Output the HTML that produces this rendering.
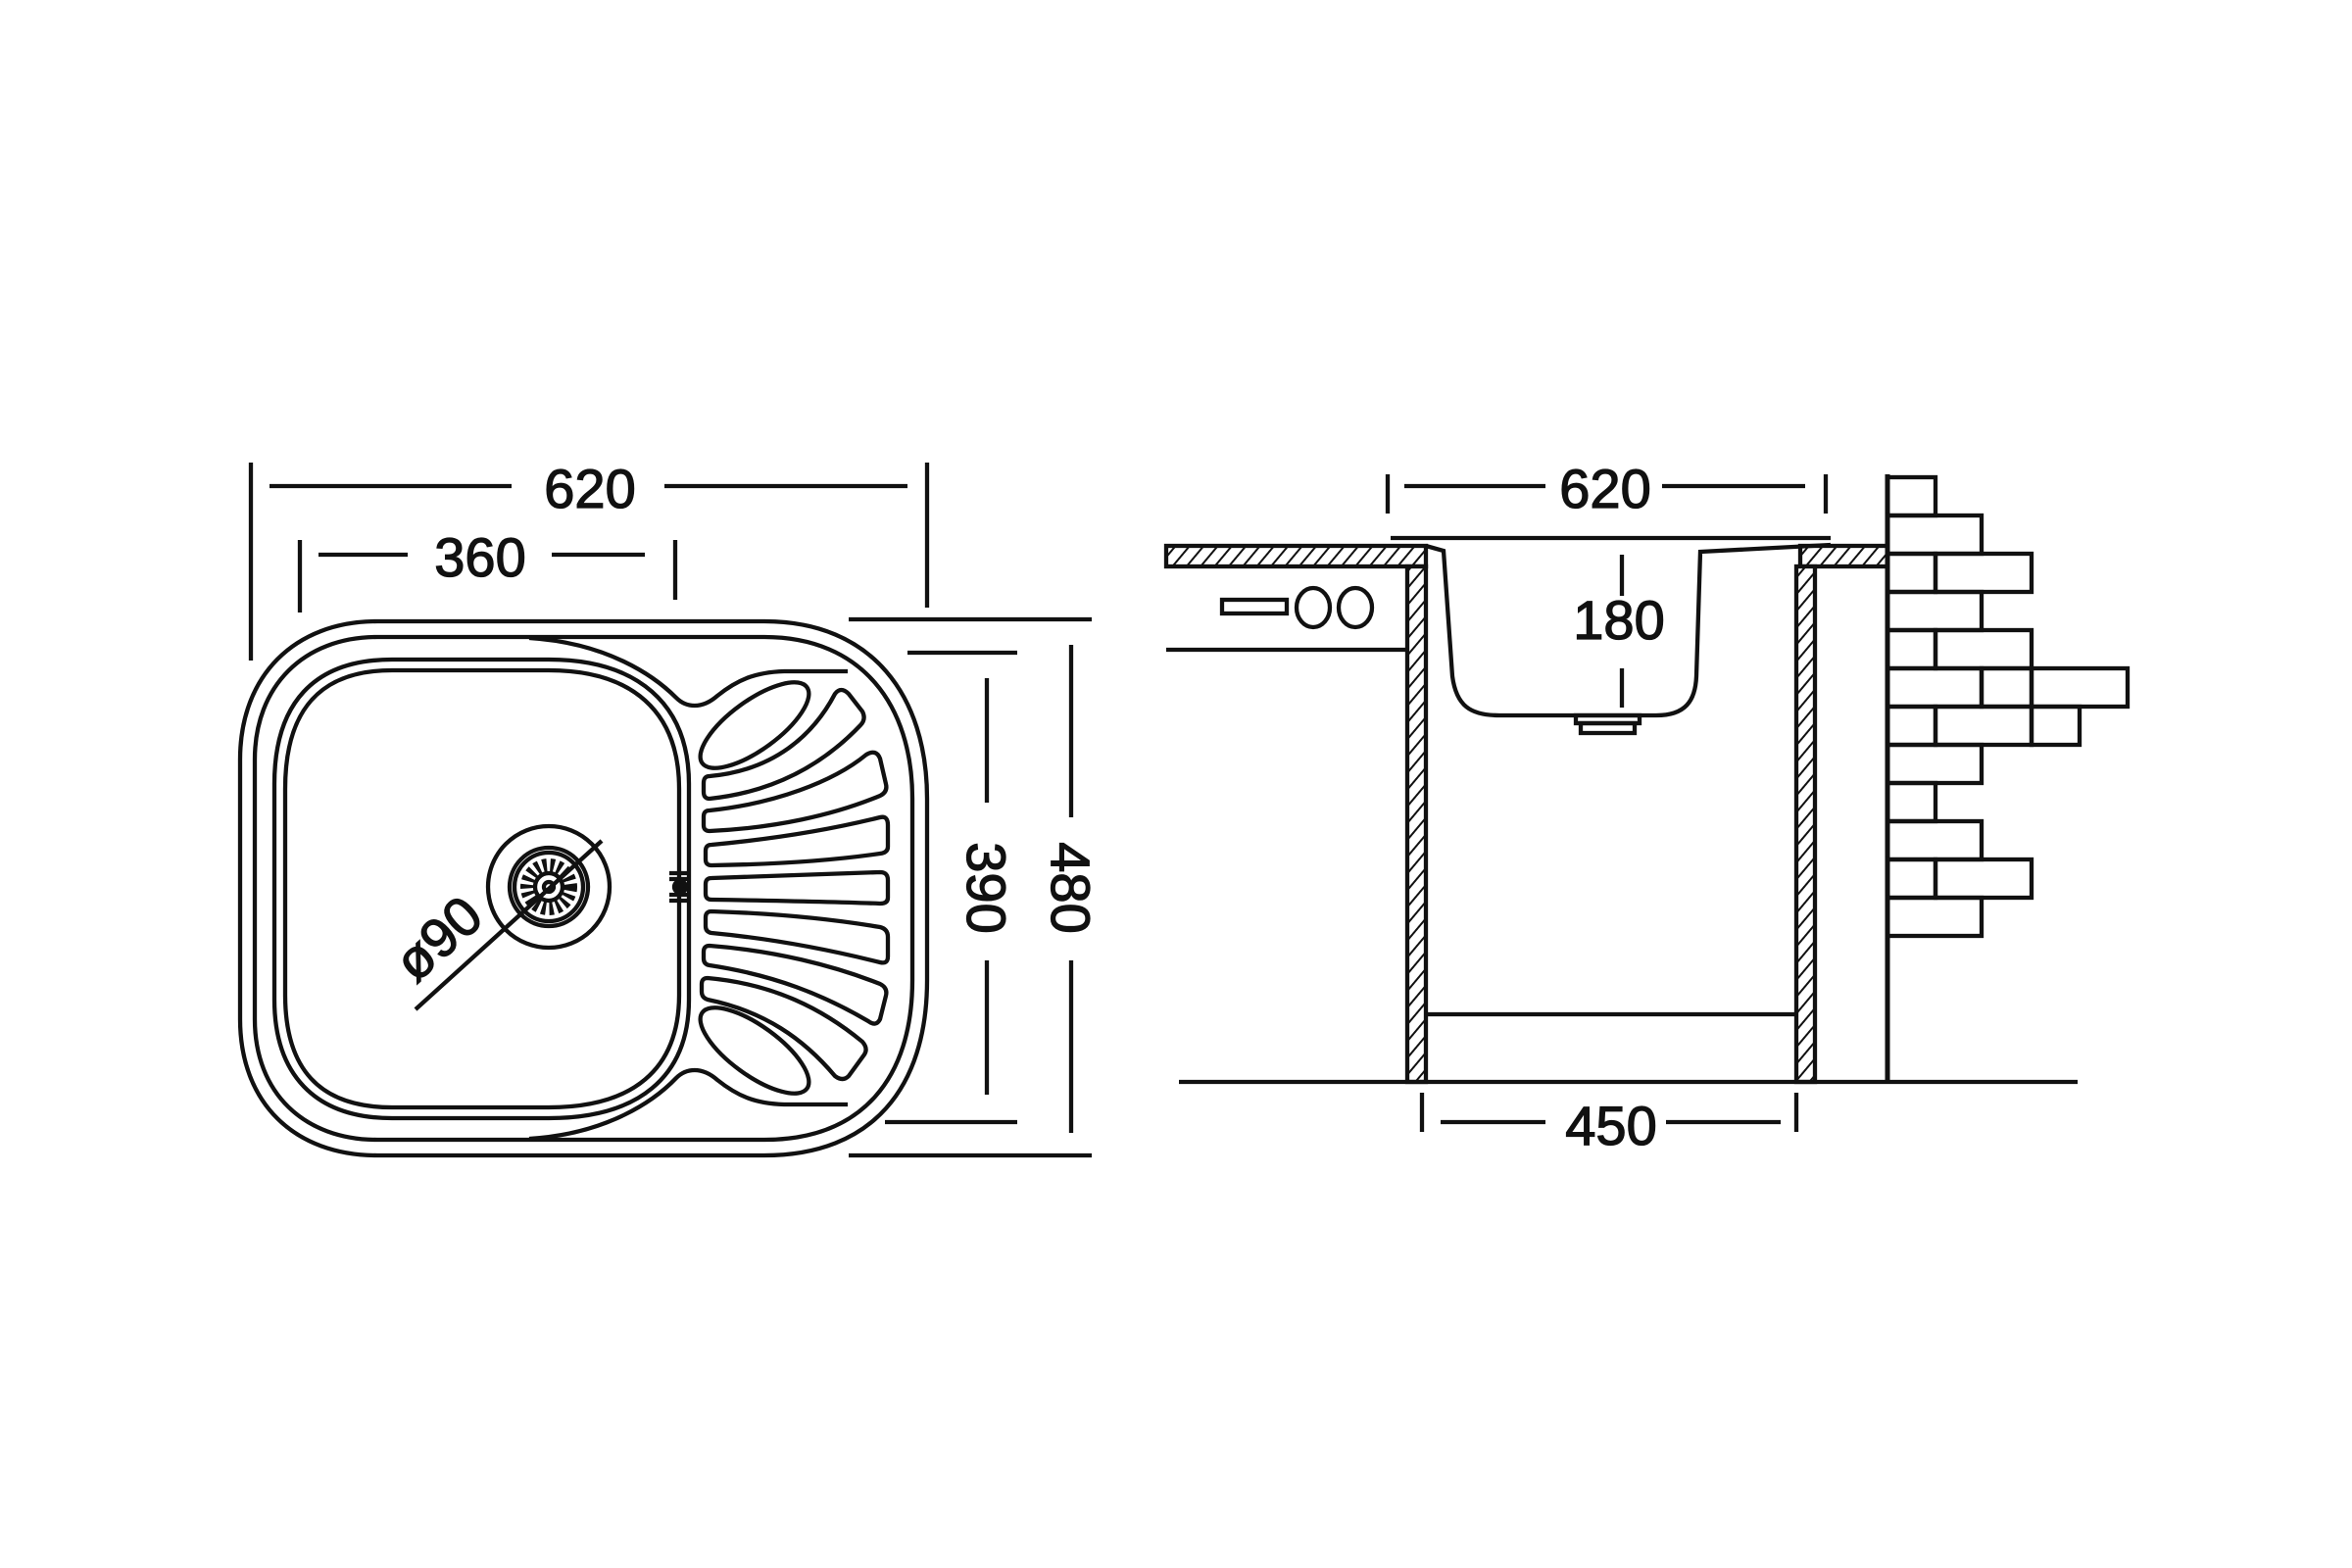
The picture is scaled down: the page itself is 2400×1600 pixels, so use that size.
<!DOCTYPE html>
<html><head><meta charset="utf-8"><style>html,body{margin:0;padding:0;background:#fff}svg{display:block}</style></head>
<body>
<svg width="2400" height="1600" viewBox="0 0 2400 1600" xmlns="http://www.w3.org/2000/svg">
<defs>
<pattern id="h" width="11" height="11" patternUnits="userSpaceOnUse" patternTransform="rotate(40)">
<rect width="11" height="11" fill="#fff"/><line x1="0" y1="0" x2="0" y2="11" stroke="#111" stroke-width="4"/></pattern>
</defs>
<g fill="none" stroke="#111" stroke-width="4.3" stroke-linecap="butt">
<!-- LEFT VIEW -->
<path d="M385,634 H780 C890,634 946,710 946,815 V1000 C946,1110 890,1179 780,1179 H385 C300,1179 245,1125 245,1040 V775 C245,690 300,634 385,634 Z"/>
<path d="M385,650 H780 C880,650 931,720 931,815 V1000 C931,1100 880,1163 780,1163 H385 C310,1163 260,1115 260,1040 V775 C260,700 310,650 385,650 Z"/>
<path d="M540,651 C620,656 668,690 690,712 C700,722 716,724 732,710 C752,694 770,686 800,685 H865"/>
<path d="M540,1162 C620,1157 668,1123 690,1100 C700,1090 716,1088 732,1102 C752,1118 770,1126 800,1127 H865"/>
<path d="M400,673 H560 C650,673 703,718 703,800 V1020 C703,1100 650,1141 560,1141 H400 C320,1141 280,1095 280,1020 V800 C280,718 320,673 400,673 Z"/>
<path d="M400,684 H560 C645,684 693,726 693,805 V1015 C693,1092 645,1130 560,1130 H400 C325,1130 291,1090 291,1015 V805 C291,726 325,684 400,684 Z"/>
<!-- overflow -->
<line x1="683" y1="891" x2="705" y2="891"/><line x1="683" y1="897" x2="705" y2="897"/>
<line x1="683" y1="913" x2="705" y2="913"/><line x1="683" y1="919" x2="705" y2="919"/>
<circle cx="694" cy="905" r="6" fill="#111"/>
<!-- drain -->
<circle cx="560" cy="905" r="62"/><circle cx="560" cy="905" r="40"/><circle cx="560" cy="905" r="35"/>
<circle cx="560" cy="905" r="22" stroke-width="14" stroke-dasharray="4 3.5"/>
<circle cx="560" cy="905" r="14"/><circle cx="560" cy="905" r="5"/>
<line x1="424" y1="1030" x2="614" y2="858"/>
<!-- ribs -->
<ellipse cx="770" cy="740" rx="66" ry="25" transform="rotate(-36 770 740)"/>
<ellipse cx="770" cy="1072" rx="66" ry="25" transform="rotate(36 770 1072)"/>
<path d="M724,792 C790,786 830,750 852,708 Q858,700 866,708 L880,726 Q884,734 878,740 C840,780 790,808 724,815 Q718,815 718,808 V799 Q718,792 724,792 Z"/>
<path d="M724,827 C790,820 850,798 884,770 Q894,764 898,774 L904,800 Q906,808 898,812 C850,832 790,845 724,848 Q718,848 718,842 V833 Q718,827 724,827 Z"/>
<path d="M726,862 C790,856 850,846 898,834 Q906,832 906,842 V864 Q906,870 898,871 C850,878 790,882 726,883 Q720,883 720,877 V868 Q720,862 726,862 Z"/>
<path d="M726,896 C790,894 850,892 898,890 Q906,890 906,898 V916 Q906,922 898,922 C850,920 790,919 726,918 Q720,918 720,912 V902 Q720,896 726,896 Z"/>
<path d="M726,930 C790,932 850,938 898,946 Q906,948 906,956 V976 Q906,984 898,982 C850,970 790,958 726,952 Q720,951 720,945 V936 Q720,930 726,930 Z"/>
<path d="M724,965 C790,970 850,985 898,1004 Q906,1008 904,1016 L898,1040 Q894,1048 886,1042 C840,1015 790,995 724,985 Q718,984 718,978 V971 Q718,965 724,965 Z"/>
<path d="M722,998 C790,1004 840,1030 880,1063 Q886,1070 882,1076 L866,1098 Q860,1104 852,1098 C820,1060 780,1032 722,1020 Q716,1018 716,1012 V1004 Q716,998 722,998 Z"/>
<!-- dims left -->
<line x1="256" y1="472" x2="256" y2="674"/><line x1="946" y1="472" x2="946" y2="620"/>
<line x1="275" y1="496" x2="522" y2="496"/><line x1="678" y1="496" x2="926" y2="496"/>
<line x1="306" y1="551" x2="306" y2="625"/><line x1="689" y1="551" x2="689" y2="612"/>
<line x1="325" y1="566" x2="416" y2="566"/><line x1="563" y1="566" x2="658" y2="566"/>
<line x1="926" y1="666" x2="1038" y2="666"/><line x1="903" y1="1145" x2="1038" y2="1145"/>
<line x1="1007" y1="692" x2="1007" y2="819"/><line x1="1007" y1="980" x2="1007" y2="1117"/>
<line x1="866" y1="632" x2="1114" y2="632"/><line x1="866" y1="1179" x2="1114" y2="1179"/>
<line x1="1093" y1="658" x2="1093" y2="834"/><line x1="1093" y1="980" x2="1093" y2="1156"/>
<!-- RIGHT VIEW -->
<rect x="1190" y="557" width="265" height="21" fill="url(#h)"/>
<rect x="1837" y="557" width="89" height="21" fill="url(#h)"/>
<rect x="1436" y="578" width="19" height="526" fill="url(#h)"/>
<rect x="1833" y="578" width="19" height="526" fill="url(#h)"/>
<line x1="1419" y1="549" x2="1868" y2="549"/>
<path d="M1455,557 L1473,562 L1482,690 C1486,720 1500,730 1530,730 H1690 C1720,730 1730,715 1731,690 L1735,563 L1868,556"/>
<rect x="1608" y="730" width="65" height="8"/><rect x="1613" y="738" width="55" height="10"/>
<line x1="1655" y1="566" x2="1655" y2="608"/><line x1="1655" y1="682" x2="1655" y2="722"/>
<line x1="1190" y1="663" x2="1436" y2="663"/>
<rect x="1247" y="612" width="66" height="14"/>
<ellipse cx="1340" cy="620" rx="17" ry="20"/><ellipse cx="1383" cy="620" rx="17" ry="20"/>
<line x1="1455" y1="1035" x2="1833" y2="1035"/>
<line x1="1203" y1="1104" x2="2120" y2="1104"/>
<line x1="1926" y1="484" x2="1926" y2="1104" stroke-width="5"/>
<line x1="1416" y1="484" x2="1416" y2="524"/><line x1="1863" y1="484" x2="1863" y2="524"/>
<line x1="1433" y1="496" x2="1577" y2="496"/><line x1="1696" y1="496" x2="1842" y2="496"/>
<line x1="1451" y1="1115" x2="1451" y2="1155"/><line x1="1833" y1="1115" x2="1833" y2="1155"/>
<line x1="1470" y1="1145" x2="1577" y2="1145"/><line x1="1700" y1="1145" x2="1817" y2="1145"/>
<!-- bricks -->
<g stroke-width="4.3">
<rect x="1926" y="487" width="49" height="39"/>
<rect x="1926" y="526" width="96" height="39"/>
<rect x="1926" y="565" width="49" height="39"/><rect x="1975" y="565" width="98" height="39"/>
<rect x="1926" y="604" width="96" height="39"/>
<rect x="1926" y="643" width="49" height="39"/><rect x="1975" y="643" width="98" height="39"/>
<rect x="1926" y="682" width="96" height="39"/><rect x="2022" y="682" width="51" height="39"/><rect x="2073" y="682" width="98" height="39"/>
<rect x="1926" y="721" width="49" height="39"/><rect x="1975" y="721" width="98" height="39"/><rect x="2073" y="721" width="49" height="39"/>
<rect x="1926" y="760" width="96" height="39"/>
<rect x="1926" y="799" width="49" height="39"/>
<rect x="1926" y="838" width="96" height="39"/>
<rect x="1926" y="877" width="49" height="39"/><rect x="1975" y="877" width="98" height="39"/>
<rect x="1926" y="916" width="96" height="39"/>
</g>
</g>
<g font-family="Liberation Sans, Arial, sans-serif" font-size="56" fill="#111" stroke="#111" stroke-width="1.3" text-anchor="middle">
<text x="602" y="518">620</text>
<text x="490" y="588">360</text>
<text x="1638" y="518">620</text>
<text x="1652" y="652">180</text>
<text x="1644" y="1168">450</text>
<text transform="translate(987,906) rotate(90)">390</text>
<text transform="translate(1073,906) rotate(90)">480</text>
<text transform="translate(460,972) rotate(-42)">ø90</text>
</g>
</svg>
</body></html>
